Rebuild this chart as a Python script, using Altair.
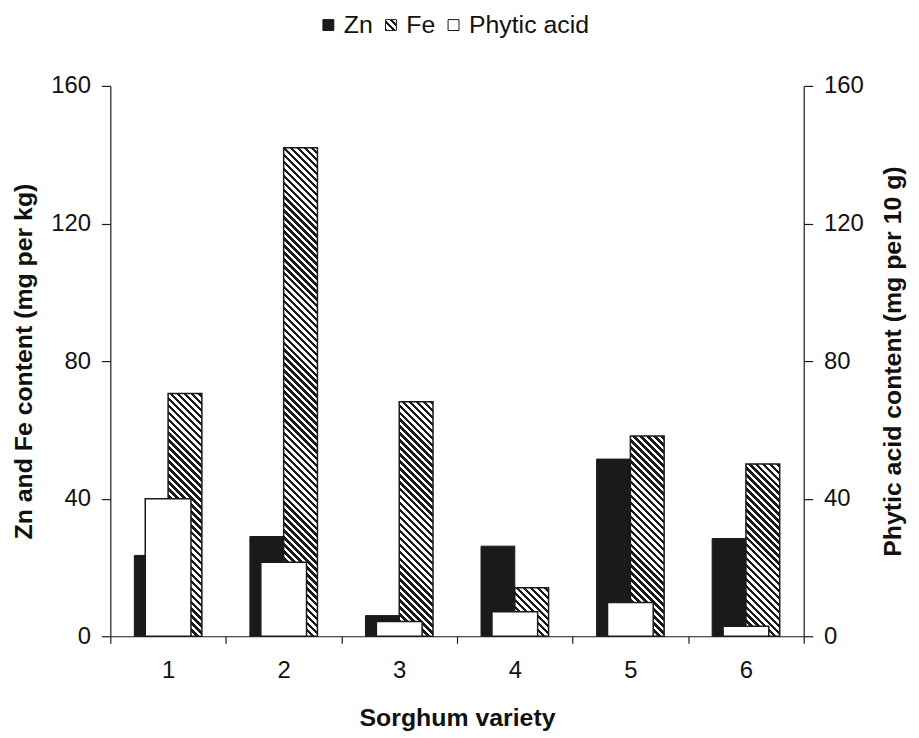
import math
import json
import altair as alt
import pandas as pd

# ---- data ----
varieties = ["1", "2", "3", "4", "5", "6"]
zn = [23.5, 29.0, 6.0, 26.2, 51.5, 28.4]
fe = [70.6, 142.0, 68.2, 14.1, 58.2, 50.1]
phytic = [40.0, 21.5, 4.3, 7.1, 9.8, 2.9]
series = ["Zn", "Fe", "Phytic acid"]
y_ticks = [0, 40, 80, 120, 160]

W, H = 698, 554
YMAX = 160
BAR_W = 34
PHY_W = 46
INK = "#1a1a1a"
FONT = "Liberation Sans"

df = pd.DataFrame({"variety": varieties, "zn": zn, "fe": fe, "phytic": phytic, "s": "Zn"})


def hatch(w, h, period=4.95, black=0.5):
    """Diagonal '\\' stripes as a hard-stop linear gradient in the shape's own box."""
    s = (w + h) / (w * w + h * h)
    D = (w + h) / math.sqrt(2)
    stops = []
    k = 0
    done = False
    while not done:
        a = k * period / D
        b = (k * period + black * period) / D
        c = (k + 1) * period / D
        for off, col in ((a, INK), (b, INK), (b, "#ffffff"), (c, "#ffffff")):
            if off >= 1:
                stops.append({"offset": 1, "color": col})
                done = True
                break
            stops.append({"offset": round(off, 5), "color": col})
        k += 1
    return {"gradient": "linear", "x1": 0, "y1": 1, "x2": round(s * w, 6), "y2": round(1 - s * h, 6), "stops": stops}


# key swatch for Fe: the colour scale maps "Fe" to a hatched gradient
fe_key = alt.ExprRef(expr=json.dumps(hatch(11, 11, period=5.2, black=0.38)))

x_enc = alt.X(
    "variety:N",
    sort=varieties,
    scale=alt.Scale(paddingInner=0, paddingOuter=0),
    axis=alt.Axis(
        title="Sorghum variety",
        labelAngle=0,
        tickBand="extent",
        tickSize=7,
        labelPadding=16,
        titlePadding=23,
    ),
)

left_axis = alt.Axis(
    title="Zn and Fe content (mg per kg)",
    values=y_ticks,
    tickSize=9,
    labelPadding=11,
    titlePadding=14,
    grid=False,
)
y_scale = alt.Scale(domain=[0, YMAX], nice=False)

legend = alt.Legend(
    title=None,
    orient="none",
    direction="horizontal",
    legendX=207,
    legendY=-74,
    symbolType="square",
    symbolSize=121,
    symbolStrokeColor=INK,
    symbolStrokeWidth=1,
    labelFontSize=25,
    labelFont=FONT,
    labelColor="#111111",
    labelOffset=3,
    columnPadding=5,
)

zn_layer = alt.Chart(df).mark_bar(size=BAR_W, xOffset=-BAR_W / 2, stroke=INK, strokeWidth=1).encode(
    x=x_enc,
    y=alt.Y("zn:Q", scale=y_scale, axis=left_axis),
    color=alt.Color(
        "s:N",
        scale=alt.Scale(domain=series, range=[INK, fe_key, "#ffffff"]),
        legend=legend,
    ),
)

fe_layers = []
for v, val in zip(varieties, fe):
    h = val * H / YMAX
    fe_layers.append(
        alt.Chart(df)
        .transform_filter(alt.datum.variety == v)
        .mark_bar(size=BAR_W, xOffset=BAR_W / 2, fill=hatch(BAR_W, h), stroke=INK, strokeWidth=1.5)
        .encode(x=x_enc, y=alt.Y("fe:Q", scale=y_scale, axis=left_axis))
    )

left = alt.layer(zn_layer, *fe_layers)

phy_layer = alt.Chart(df).mark_bar(size=PHY_W, fill="#ffffff", stroke=INK, strokeWidth=1.5).encode(
    x=x_enc,
    y=alt.Y(
        "phytic:Q",
        scale=y_scale,
        axis=alt.Axis(
            title="Phytic acid content (mg per 10 g)",
            orient="right",
            values=y_ticks,
            tickSize=9,
            labelPadding=11,
            titlePadding=17,
            titleAngle=270,
            titleBaseline="top",
            grid=False,
        ),
    ),
)

chart = (
    alt.layer(left, phy_layer)
    .resolve_scale(y="independent")
    .properties(width=W, height=H, padding={"left": 3, "top": 2, "right": 5, "bottom": 5})
    .configure_view(stroke=None)
    .configure_legend(padding=0)
    .configure_axis(
        labelFont=FONT,
        labelFontSize=24,
        labelColor="#111111",
        titleFont=FONT,
        titleFontSize=25,
        titleFontWeight="bold",
        titleColor="#111111",
        domainColor=INK,
        tickColor=INK,
        domainWidth=1.2,
        tickWidth=1.2,
    )
)

chart.save("out.html", embed_options={"renderer": "svg", "actions": False})
